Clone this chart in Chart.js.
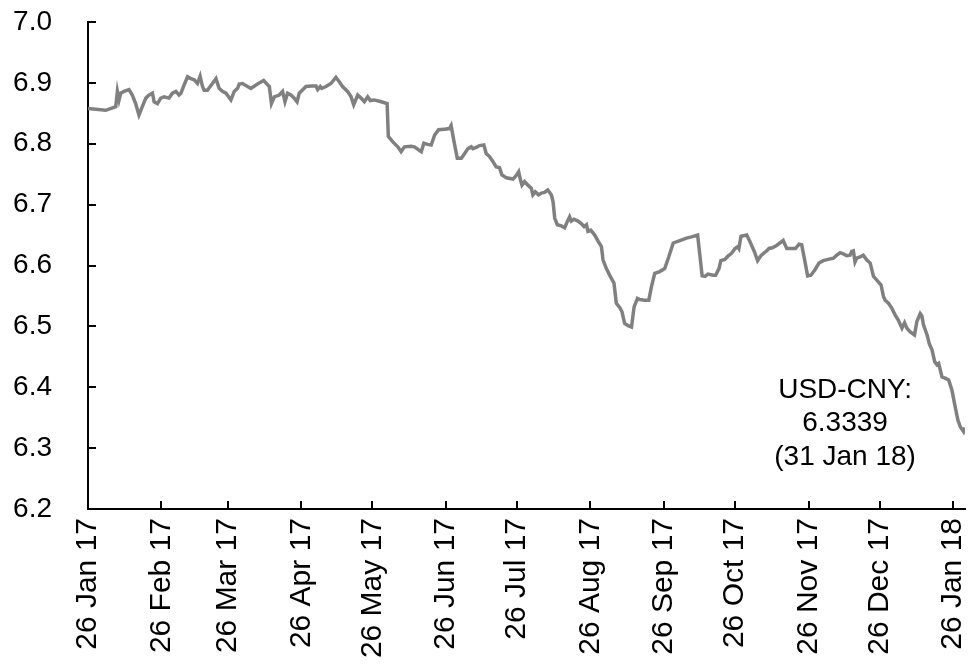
<!DOCTYPE html>
<html>
<head>
<meta charset="utf-8">
<script src="https://cdn.jsdelivr.net/npm/chart.js@4/dist/chart.umd.min.js"></script>
<style>
  html, body { margin: 0; padding: 0; background: #fff; }
  #wrap { width: 969px; height: 666px; position: relative; }
</style>
</head>
<body>
<div id="wrap"><canvas id="c" width="969" height="666"></canvas></div>
<script>
// Days since 26 Jan 2017
const days = [
  0, 7.5, 11.7, 12.4, 13.1, 13.8, 15.2, 17.3, 18.7, 20.1, 21.5, 22.9, 24.4, 25.8, 27.2, 27.9, 29.3, 30.7, 32.1, 34.2,
  35.6, 37.1, 38.4, 39.2, 40.6, 42.0, 43.4, 44.8, 46.2, 47.3, 48.3, 49.0, 50.4, 52.5, 54.0, 55.3, 56.7, 58.2, 60.3, 61.7,
  63.1, 63.8, 65.2, 67.3, 68.7, 71.5, 74.1, 76.5, 77.4, 78.6, 80.7, 82.1, 83.1, 84.2, 85.6, 87.0, 88.2, 89.1, 92.0, 94.1,
  96.2, 96.9, 98.0, 98.6, 100.4, 102.5, 104.6, 106.0, 107.4, 109.5, 111.0, 112.1, 113.8, 115.2, 116.6, 118.0, 119.1, 120.8, 123.7, 126.2,
  126.7, 128.6, 130.7, 132.1, 133.5, 136.3, 137.7, 140.6, 141.7, 143.3, 144.8, 146.2, 147.9, 150.4, 152.5, 153.2, 154.3, 155.8, 157.5, 158.9,
  160.3, 161.7, 162.4, 163.8, 165.2, 167.0, 168.0, 169.4, 170.8, 172.2, 173.6, 174.6, 176.5, 179.3, 180.7, 181.7, 182.5, 183.1, 184.2, 185.6,
  187.0, 187.7, 188.7, 190.1, 191.3, 192.6, 194.0, 195.5, 196.2, 196.9, 198.0, 199.7, 201.1, 202.2, 203.2, 203.9, 205.0, 206.7, 208.1, 209.3,
  210.3, 210.9, 212.1, 213.8, 215.2, 216.6, 217.3, 218.7, 220.1, 221.9, 222.9, 224.3, 225.3, 226.4, 227.9, 229.3, 230.4, 231.8, 232.8, 234.9,
  236.6, 237.7, 239.1, 241.2, 243.3, 245.0, 246.9, 249.7, 252.5, 254.6, 257.2, 259.1, 260.3, 261.6, 263.8, 264.8, 266.2, 267.0, 268.7, 270.1,
  271.5, 273.0, 274.1, 274.6, 275.5, 277.9, 279.3, 281.1, 282.5, 283.9, 285.3, 286.3, 287.3, 288.7, 290.5, 291.9, 293.3, 294.8, 296.9, 298.5,
  300.0, 301.1, 302.2, 303.6, 305.0, 306.7, 308.4, 310.2, 312.3, 314.5, 315.9, 317.3, 318.7, 320.1, 321.5, 322.2, 322.9, 323.6, 324.3, 325.7,
  327.1, 328.6, 330.0, 331.4, 332.8, 334.6, 335.6, 336.3, 337.7, 339.1, 340.5, 341.9, 343.4, 344.5, 345.5, 346.9, 348.7, 349.7, 351.1, 351.8,
  352.5, 354.0, 354.9, 356.1, 357.2, 358.2, 358.9, 359.6, 360.3, 361.6, 363.1, 364.5, 365.9, 367.0, 368.0, 369.4, 370
];
const usdCny = [
  6.858, 6.855, 6.861, 6.886, 6.872, 6.883, 6.886, 6.889, 6.880, 6.866, 6.847, 6.861, 6.875, 6.880, 6.883, 6.869, 6.866, 6.875, 6.877, 6.875,
  6.883, 6.886, 6.880, 6.883, 6.897, 6.910, 6.907, 6.905, 6.899, 6.911, 6.894, 6.888, 6.888, 6.899, 6.907, 6.891, 6.886, 6.883, 6.872, 6.886,
  6.891, 6.898, 6.899, 6.894, 6.891, 6.898, 6.904, 6.894, 6.866, 6.877, 6.880, 6.886, 6.869, 6.883, 6.880, 6.875, 6.869, 6.883, 6.894, 6.895,
  6.895, 6.889, 6.894, 6.891, 6.894, 6.899, 6.909, 6.902, 6.894, 6.886, 6.877, 6.864, 6.880, 6.875, 6.869, 6.877, 6.871, 6.872, 6.869, 6.866,
  6.812, 6.803, 6.795, 6.787, 6.795, 6.796, 6.795, 6.787, 6.801, 6.799, 6.798, 6.814, 6.823, 6.824, 6.825, 6.830, 6.806, 6.776, 6.776, 6.784,
  6.792, 6.795, 6.792, 6.794, 6.797, 6.798, 6.784, 6.779, 6.771, 6.762, 6.761, 6.749, 6.744, 6.742, 6.748, 6.754, 6.740, 6.732, 6.738, 6.732,
  6.727, 6.716, 6.721, 6.716, 6.719, 6.720, 6.724, 6.716, 6.705, 6.678, 6.667, 6.665, 6.662, 6.672, 6.680, 6.673, 6.676, 6.673, 6.669, 6.664,
  6.667, 6.656, 6.658, 6.650, 6.640, 6.631, 6.609, 6.595, 6.584, 6.571, 6.538, 6.531, 6.524, 6.505, 6.501, 6.499, 6.532, 6.546, 6.544, 6.543,
  6.543, 6.565, 6.587, 6.590, 6.595, 6.614, 6.637, 6.641, 6.645, 6.647, 6.650, 6.583, 6.582, 6.586, 6.584, 6.584, 6.595, 6.608, 6.610, 6.616,
  6.620, 6.628, 6.631, 6.628, 6.648, 6.650, 6.639, 6.623, 6.608, 6.616, 6.621, 6.624, 6.628, 6.629, 6.633, 6.637, 6.641, 6.628, 6.628, 6.628,
  6.635, 6.634, 6.612, 6.583, 6.584, 6.593, 6.604, 6.608, 6.610, 6.612, 6.617, 6.621, 6.619, 6.616, 6.617, 6.623, 6.624, 6.606, 6.612, 6.614,
  6.617, 6.609, 6.604, 6.582, 6.576, 6.568, 6.549, 6.543, 6.538, 6.530, 6.519, 6.510, 6.497, 6.506, 6.497, 6.491, 6.486, 6.508, 6.521, 6.517,
  6.502, 6.486, 6.472, 6.461, 6.442, 6.437, 6.439, 6.428, 6.417, 6.415, 6.412, 6.395, 6.367, 6.346, 6.335, 6.327, 6.3339
];

const tickDays = [0, 31, 59, 90, 120, 151, 181, 212, 243, 273, 304, 334, 365];
const tickLabels = ['26 Jan 17', '26 Feb 17', '26 Mar 17', '26 Apr 17', '26 May 17', '26 Jun 17',
                    '26 Jul 17', '26 Aug 17', '26 Sep 17', '26 Oct 17', '26 Nov 17', '26 Dec 17', '26 Jan 18'];
const yMin = 6.2, yMax = 7.0, yStep = 0.1;
const xMax = 370;

const annotLines = ['USD-CNY:', '6.3339', '(31 Jan 18)'];
const annotDay = 319.4;
const annotValue = 6.3955;

const FONT = '"Liberation Sans", Arial, sans-serif';
const FS = 28;
const FSX = 30;

const innerTicks = {
  id: 'innerTicks',
  afterDraw(chart) {
    const ctx = chart.ctx;
    const xs = chart.scales.x, ys = chart.scales.y;
    const a = chart.chartArea;
    ctx.save();
    ctx.strokeStyle = '#000';
    ctx.lineWidth = 2;
    ctx.beginPath();
    ys.ticks.forEach(t => {
      const y = Math.round(ys.getPixelForValue(t.value));
      ctx.moveTo(a.left, y);
      ctx.lineTo(a.left + 8, y);
    });
    xs.ticks.forEach(t => {
      const x = Math.round(xs.getPixelForValue(t.value));
      ctx.moveTo(x, a.bottom);
      ctx.lineTo(x, a.bottom - 8);
    });
    ctx.stroke();

    // annotation
    ctx.fillStyle = '#000';
    ctx.font = FS + 'px ' + FONT;
    ctx.textAlign = 'center';
    ctx.textBaseline = 'middle';
    const ax = xs.getPixelForValue(annotDay);
    const ay = ys.getPixelForValue(annotValue);
    annotLines.forEach((s, i) => ctx.fillText(s, ax, ay + i * 33.5));
    ctx.restore();
  }
};

new Chart(document.getElementById('c'), {
  type: 'line',
  data: {
    datasets: [{
      data: days.map((d, i) => ({ x: d, y: usdCny[i] })),
      borderColor: '#808080',
      borderWidth: 3.5,
      pointRadius: 0,
      tension: 0,
      fill: false
    }]
  },
  options: {
    responsive: false,
    animation: false,
    devicePixelRatio: 1,
    layout: { padding: { top: 22, right: 4, left: 0, bottom: 0 } },
    plugins: { legend: { display: false }, tooltip: { enabled: false } },
    scales: {
      x: {
        type: 'linear',
        min: 0,
        max: xMax,
        afterBuildTicks: s => { s.ticks = tickDays.map(v => ({ value: v })); },
        afterFit: s => { s.height = 157; s.paddingLeft = 0; s.paddingRight = 0; },
        grid: { display: false, drawTicks: false },
        border: { display: true, color: '#000', width: 2 },
        ticks: {
          autoSkip: false,
          minRotation: 90,
          maxRotation: 90,
          padding: 9,
          color: '#000',
          font: { family: FONT, size: FSX },
          callback: (v) => { const i = tickDays.indexOf(v); return i >= 0 ? tickLabels[i] : ''; }
        }
      },
      y: {
        min: yMin,
        max: yMax,
        afterFit: s => { s.width = 88; s.paddingTop = 0; s.paddingBottom = 0; },
        grid: { display: false, drawTicks: false },
        border: { display: true, color: '#000', width: 2 },
        ticks: {
          stepSize: yStep,
          padding: 36,
          color: '#000',
          font: { family: FONT, size: FS },
          callback: v => Number(v).toFixed(1)
        }
      }
    }
  },
  plugins: [innerTicks]
});
</script>
</body>
</html>
